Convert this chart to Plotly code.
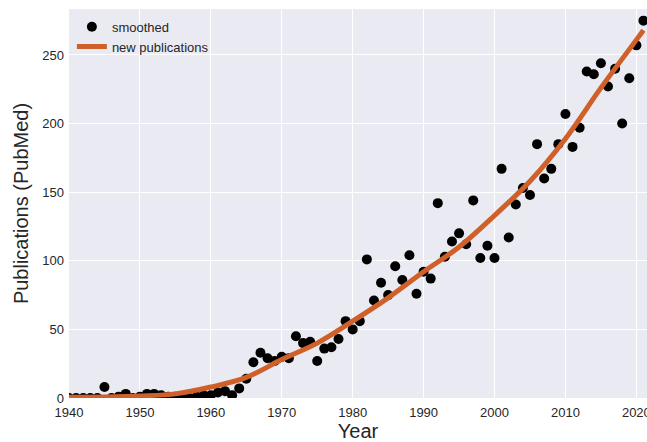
import plotly.graph_objects as go

years = list(range(1940, 2022))
publications = [
    0, 0, 0, 0, 0, 8, 0, 1, 3, 0,          # 1940-1949
    1, 3, 3, 2, 1, 1, 0, 0, 1, 2,          # 1950-1959
    2, 4, 5, 2, 7, 14, 26, 33, 29, 27,     # 1960-1969
    30, 29, 45, 40, 41, 27, 36, 37, 43, 56,  # 1970-1979
    50, 56, 101, 71, 84, 75, 96, 86, 104, 76,  # 1980-1989
    92, 87, 142, 103, 114, 120, 112, 144, 102, 111,  # 1990-1999
    102, 167, 117, 141, 153, 148, 185, 160, 167, 185,  # 2000-2009
    207, 183, 197, 238, 236, 244, 227, 240, 200, 233,  # 2010-2019
    257, 275,                              # 2020-2021
]

smooth_years = [1940, 1945, 1950, 1955, 1960, 1965, 1970, 1975, 1980,
                1985, 1990, 1995, 2000, 2005, 2010, 2015, 2020, 2021]
smooth_values = [0.5, 0.8, 1.5, 3, 8, 15, 28, 40, 56,
                 73, 92, 110, 133, 158, 189, 226, 261, 268]

x_ticks = [1940, 1950, 1960, 1970, 1980, 1990, 2000, 2010, 2020]
y_ticks = [0, 50, 100, 150, 200, 250]

fig = go.Figure()
fig.add_trace(go.Scatter(
    x=years, y=publications, mode="markers", name="smoothed",
    marker=dict(color="black", size=10),
))
fig.add_trace(go.Scatter(
    x=smooth_years, y=smooth_values, mode="lines", name="new publications",
    line=dict(color="#d0602a", width=5, shape="spline"),
))

font_family = "Liberation Sans, Arial, sans-serif"
fig.update_layout(
    width=647, height=442,
    margin=dict(l=69, r=0, t=9, b=44, autoexpand=False),
    paper_bgcolor="white",
    plot_bgcolor="#eaeaf2",
    font=dict(family=font_family, color="#262626", size=13),
    showlegend=True,
    legend=dict(x=0.005, y=0.993, xanchor="left", yanchor="top",
                bgcolor="rgba(0,0,0,0)", font=dict(size=13, color="#262626"),
                tracegroupgap=0),
    xaxis=dict(range=[1940, 2021.5], tickvals=x_ticks, showgrid=True,
               gridcolor="white", gridwidth=1.2, zeroline=False, showline=False,
               ticks="", automargin=False, ticklabeloverflow="allow",
               ticklabelstandoff=5,
               title=dict(text="Year", font=dict(size=20), standoff=7),
               tickfont=dict(size=13)),
    yaxis=dict(range=[0, 283.5], tickvals=y_ticks, showgrid=True,
               gridcolor="white", gridwidth=1.2, zeroline=False, showline=False,
               ticks="", automargin=False, ticklabelstandoff=4,
               title=dict(text="Publications (PubMed)", font=dict(size=20), standoff=8),
               tickfont=dict(size=13)),
)

fig.write_html("out.html", config={"displayModeBar": False},
               post_script="document.body.style.margin='0';document.body.style.padding='0';")
